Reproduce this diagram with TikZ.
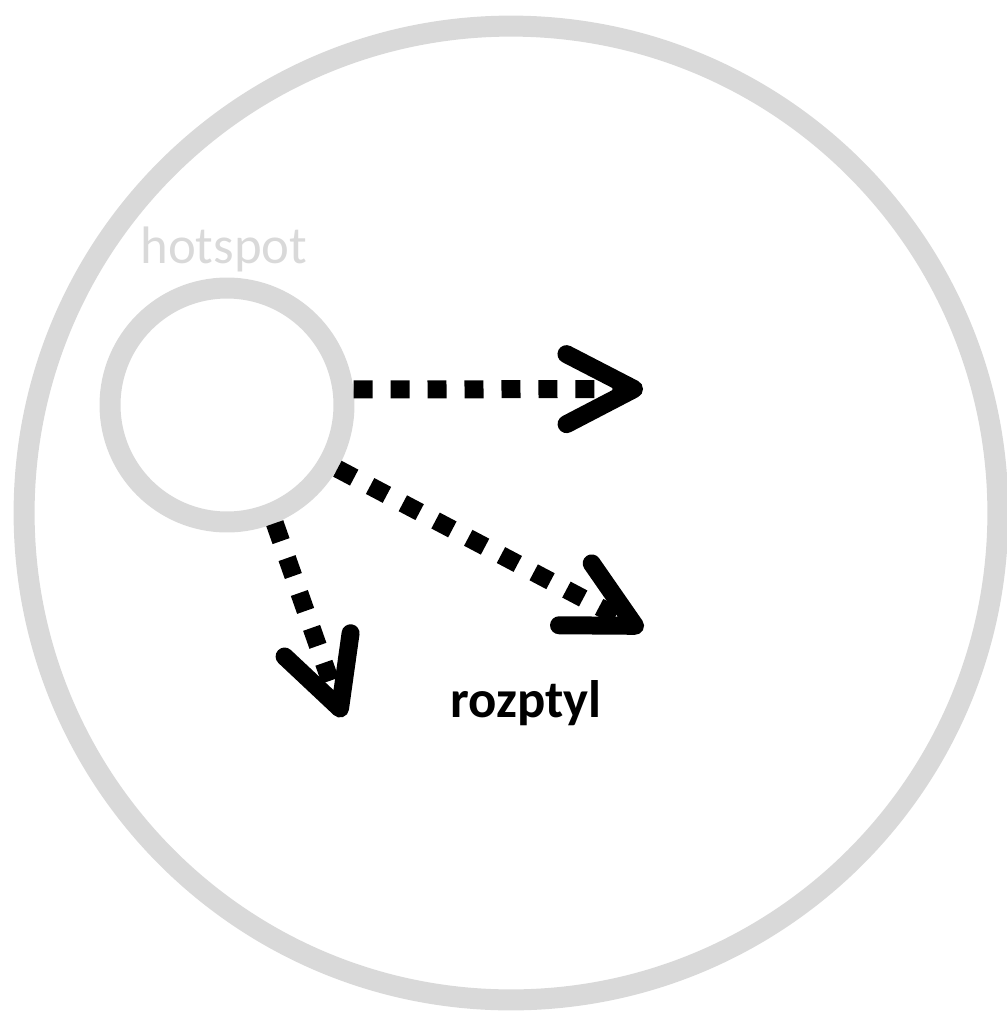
\documentclass[tikz,border=0pt]{standalone}
\usepackage{fontspec}
\setmainfont{Carlito}
\usetikzlibrary{arrows.meta}
\definecolor{RingGray}{HTML}{D9D9D9}

\begin{document}
\begin{tikzpicture}[
  x=0.02cm, y=-0.02cm,
  every node/.style={font=\fontsize{30}{36}\selectfont},
  ring/.style={circle, draw=RingGray, line width=0.42cm, minimum size=#1, inner sep=0pt},
  flow/.style={line width=0.36cm, dash pattern=on 0.38cm off 0.36cm, -{Straight Barb[length=1.35cm, width=1.4cm, round]}}
]
\useasboundingbox (0,0) rectangle (1007,1012);
\node[ring=19.48cm] (cell) at (511,513) {};
\node[ring=4.68cm] (hotspot) at (227,405) {};
\node[text=RingGray, anchor=base] (hotlabel) at (224,263) {hotspot};
\node[font=\fontsize{30}{36}\selectfont\bfseries, anchor=base] (scatter) at (526,717) {rozptyl};

\coordinate (tipA) at (643,389);
\coordinate (tipB) at (643,630);
\coordinate (tipC) at (343,717);

\draw[flow] (hotspot.7) -- (tipA);
\draw[flow] (hotspot.-30) -- (tipB);
\draw[flow] (hotspot.-68) -- (tipC);
\end{tikzpicture}
\end{document}
